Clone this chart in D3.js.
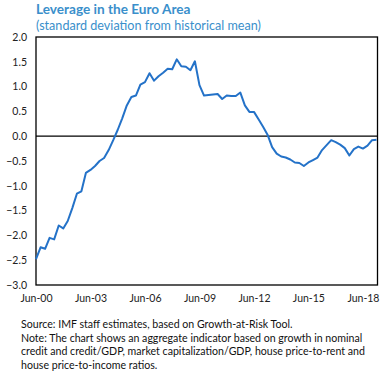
<!DOCTYPE html>
<html><head><meta charset="utf-8">
<script src="https://cdn.jsdelivr.net/npm/d3@7"></script>
<style>
body{margin:0;background:#fff;}
svg{display:block;}
</style></head>
<body>
<svg id="c" width="392" height="373"></svg>
<script>
// Quarterly series, Jun-2000 .. Mar-2019
const startYear = 2000, startMonth = 5; // June (0-based)
const values = [
 -2.48,-2.24,-2.27,-2.05,-2.08,-1.80,-1.86,-1.71,-1.45,-1.16,
 -1.11,-0.74,-0.68,-0.60,-0.50,-0.44,-0.28,-0.08,0.13,0.36,
 0.62,0.79,0.82,1.04,1.09,1.27,1.12,1.21,1.28,1.36,
 1.35,1.55,1.41,1.40,1.33,1.51,1.03,0.82,0.83,0.84,
 0.85,0.75,0.82,0.81,0.81,0.88,0.62,0.49,0.49,0.34,
 0.19,0.03,-0.22,-0.35,-0.41,-0.43,-0.47,-0.53,-0.54,-0.60,
 -0.53,-0.48,-0.43,-0.28,-0.18,-0.08,-0.12,-0.17,-0.24,-0.39,
 -0.26,-0.21,-0.25,-0.19,-0.08,-0.07
];
const xTickLabels = ["Jun-00","Jun-03","Jun-06","Jun-09","Jun-12","Jun-15","Jun-18"];
const xTickYears = [2000,2003,2006,2009,2012,2015,2018];
const yTicks = [2.0,1.5,1.0,0.5,0.0,-0.5,-1.0,-1.5,-2.0,-2.5,-3.0];
const title = "Leverage in the Euro Area";
const subtitle = "(standard deviation from historical mean)";
const notes = [
 "Source: IMF staff estimates, based on Growth-at-Risk Tool.",
 "Note: The chart shows an aggregate indicator based on growth in nominal",
 "credit and credit/GDP, market capitalization/GDP, house price-to-rent and",
 "house price-to-income ratios."
];

const dates = values.map((v,i)=>new Date(startYear, startMonth + 3*i, 1));
const data = values.map((v,i)=>({d:dates[i], v}));

const svg = d3.select("#c");
const L=36, R=377.5, T=37, B=285;
const x = d3.scaleTime().domain([dates[0], dates[dates.length-1]]).range([L, 376.5]);
const y = d3.scaleLinear().domain([-3,2]).range([B,T]);

const font = "Lato, 'Open Sans', sans-serif";
const blue = "#3a8fcb";

svg.append("text").attr("x",36).attr("y",14).attr("fill",blue)
  .attr("font-family",font).attr("font-weight","bold").attr("font-size",13.6).text(title);
svg.append("text").attr("x",36).attr("y",29.5).attr("fill",blue)
  .attr("font-family",font).attr("font-size",12.6).text(subtitle);

// y axis labels
const yAxis = d3.axisLeft(y).tickValues(yTicks).tickFormat(d3.format(".1f")).tickSize(0).tickPadding(9);
const gy = svg.append("g").attr("transform",`translate(${L},0)`).call(yAxis);
gy.select(".domain").remove();
gy.selectAll("text").attr("font-family",font).attr("font-size",10.5).attr("fill","#222");

// x axis labels
const tickDates = xTickYears.map(yr=>new Date(yr, startMonth, 1));
const xAxis = d3.axisBottom(x).tickValues(tickDates)
  .tickFormat((d,i)=>xTickLabels[i]).tickSize(0).tickPadding(10);
const gx = svg.append("g").attr("transform",`translate(0,${B})`).call(xAxis);
gx.select(".domain").remove();
gx.selectAll("text").attr("font-family",font).attr("font-size",10.5).attr("fill","#222");

// frame
svg.append("rect").attr("x",L).attr("y",T).attr("width",R-L).attr("height",B-T)
  .attr("fill","none").attr("stroke","#000").attr("stroke-width",1.3);
// zero line
svg.append("line").attr("x1",L).attr("x2",R).attr("y1",y(0)).attr("y2",y(0))
  .attr("stroke","#000").attr("stroke-width",1.2);

// series
const line = d3.line().x(d=>x(d.d)).y(d=>y(d.v));
svg.append("path").datum(data).attr("d",line).attr("fill","none")
  .attr("stroke","#2472c8").attr("stroke-width",2).attr("stroke-linejoin","round");

// notes
notes.forEach((t,i)=>{
  svg.append("text").attr("x",21).attr("y",328+i*13.6).attr("fill","#111")
    .attr("font-family",font).attr("font-size",10.6).text(t);
});
</script>
</body></html>
